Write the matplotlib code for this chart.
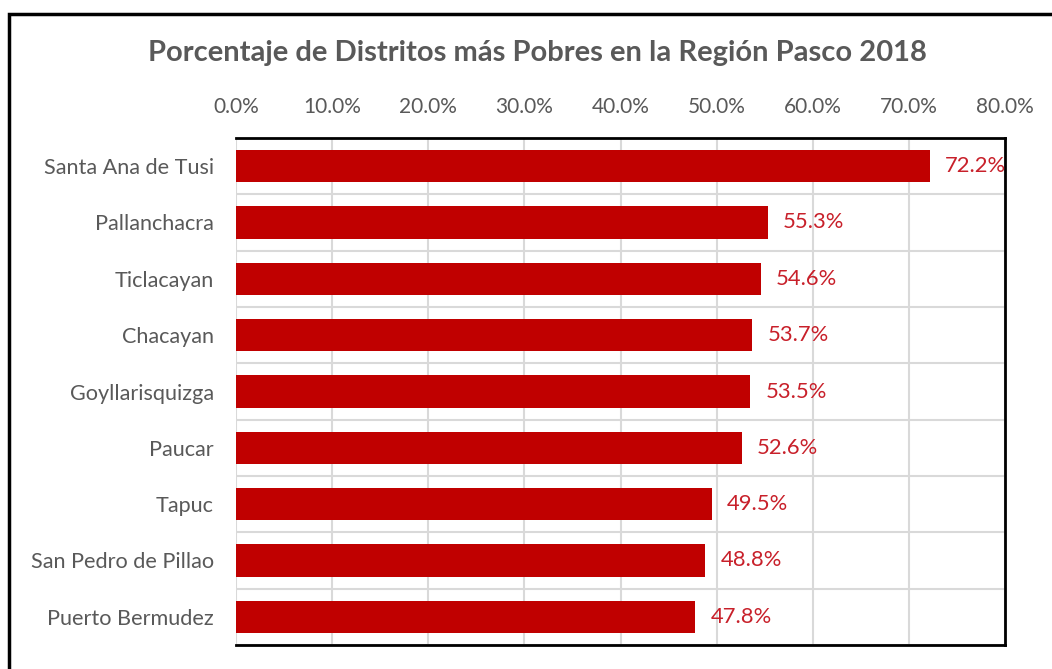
import matplotlib
matplotlib.use("Agg")
import matplotlib.pyplot as plt
from matplotlib.patches import Rectangle
from matplotlib.ticker import FuncFormatter, MultipleLocator
import numpy as np

distritos = ["Santa Ana de Tusi", "Pallanchacra", "Ticlacayan", "Chacayan",
             "Goyllarisquizga", "Paucar", "Tapuc", "San Pedro de Pillao",
             "Puerto Bermudez"]
porcentajes = [72.2, 55.3, 54.6, 53.7, 53.5, 52.6, 49.5, 48.8, 47.8]

titulo = "Porcentaje de Distritos más Pobres en la Región Pasco 2018"
rojo = "#C00000"
gris = "#595959"

plt.rcParams["font.family"] = ["Lato", "DejaVu Sans"]

fig = plt.figure(figsize=(10.52, 6.69), dpi=100)
ax = fig.add_axes([236 / 1052, 1 - 645 / 669, (1005 - 236) / 1052, (645 - 138) / 669])

y = np.arange(len(distritos))
ax.barh(y, porcentajes, height=0.57, color=rojo, zorder=3)
for yi, v in zip(y, porcentajes):
    ax.annotate(f"{v:.1f}%", (v, yi), xytext=(11, 0), textcoords="offset points",
                va="center", ha="left", color="#C8202A", fontsize=15.8, zorder=4,
                annotation_clip=False)

ax.set_xlim(0, 80)
ax.set_ylim(len(distritos) - 0.5, -0.5)
ax.xaxis.set_major_locator(MultipleLocator(10))
ax.xaxis.set_major_formatter(FuncFormatter(lambda v, p: f"{v:.1f}%"))
ax.xaxis.tick_top()
ax.set_yticks(y)
ax.set_yticklabels(distritos)
ax.set_yticks(np.arange(len(distritos) + 1) - 0.5, minor=True)
ax.tick_params(axis="both", which="both", length=0, colors=gris)
ax.tick_params(axis="x", labelsize=15, pad=15)
ax.tick_params(axis="y", labelsize=15.6, pad=16)
ax.grid(axis="x", which="major", color="#D9D9D9", linewidth=1.5, zorder=0)
ax.grid(axis="y", which="minor", color="#D9D9D9", linewidth=1.5, zorder=0)
ax.set_axisbelow(True)

ax.spines["left"].set_visible(False)
for s in ("top", "right", "bottom"):
    ax.spines[s].set_color("black")
    ax.spines[s].set_linewidth(2)

fig.text(0.511, 1 - 53 / 669, titulo, ha="center", va="center",
         fontsize=21, fontweight="bold", color=gris)

# outer chart frame
fig.patches.append(Rectangle((9 / 1052, -0.1), 1.2, 1 - 14 / 669 + 0.1,
                             transform=fig.transFigure, fill=False,
                             edgecolor="black", linewidth=2.5))

fig.savefig("out.png", dpi=100)
